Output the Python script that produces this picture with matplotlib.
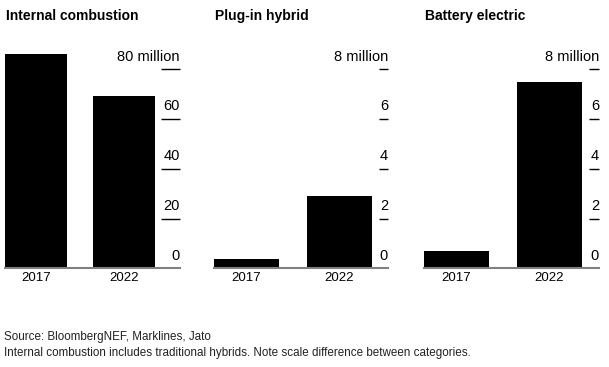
import matplotlib.pyplot as plt
import matplotlib.transforms as mtransforms

plt.rcParams['font.family'] = ['Liberation Sans', 'DejaVu Sans']

years = ['2017', '2022']
titles = ['Internal combustion', 'Plug-in hybrid', 'Battery electric']
ice_sales = [86.2, 69.3]
phev_sales = [0.37, 2.9]
bev_sales = [0.70, 7.5]
ice_ticks = [0, 20, 40, 60, 80]
ev_ticks = [0, 2, 4, 6, 8]

W, H = 609, 367
fig = plt.figure(figsize=(W / 100, H / 100), dpi=100, facecolor='white')

# layout in pixels: left edge of first bar, right end of axis, bar spacing
panels = [
    (ice_sales, ice_ticks, 5, 180, 88, 19),
    (phev_sales, ev_ticks, 214, 388, 93, 9),
    (bev_sales, ev_ticks, 424, 599, 93, 10),
]
base_px, top_tick_px = 268.3, 69.3

for (vals, ticks, left, right, unit, dash), title in zip(panels, titles):
    top_val = ticks[-1]
    px_per_val = (base_px - top_tick_px) / top_val
    ymax = top_val * 1.125
    top_px = base_px - ymax * px_per_val
    ax = fig.add_axes([left / W, 1 - base_px / H, (right - left) / W, (base_px - top_px) / H])
    width = 0.70
    ax.bar(range(len(years)), vals, width=width, color='black', zorder=2)
    ax.set_xlim(-width / 2, -width / 2 + (right - left) / unit)
    ax.set_ylim(0, ymax)

    for s in ['top', 'left', 'right']:
        ax.spines[s].set_visible(False)
    ax.spines['bottom'].set_color('#808080')
    ax.spines['bottom'].set_linewidth(1.5)
    ax.spines['bottom'].set_zorder(3)

    ax.set_xticks(range(len(years)))
    ax.set_xticklabels(years, fontsize=9.5)
    ax.tick_params(axis='x', length=0, pad=3)

    ax.yaxis.tick_right()
    ax.set_yticks(ticks[1:])
    ax.set_yticklabels([])
    ax.tick_params(axis='y', direction='in', length=dash * 0.72, width=1.0, color='black', right=True, left=False)

    trans = mtransforms.offset_copy(ax.get_yaxis_transform(), fig=fig, x=0, y=4, units='points')
    for t in ticks:
        lab = f'{t} million' if t == top_val else f'{t}'
        ax.text(1.0, t, lab, transform=trans, ha='right', va='bottom', fontsize=10.5)

    fig.text((left + 1) / W, 1 - 16 / H, title, fontsize=10, fontweight='bold', va='center', ha='left')

fig.text(4 / W, 1 - 337 / H, 'Source: BloombergNEF, Marklines, Jato', fontsize=8.4, va='center', color='#222222')
fig.text(4 / W, 1 - 353 / H, 'Internal combustion includes traditional hybrids. Note scale difference between categories.',
         fontsize=8.4, va='center', color='#222222')

fig.savefig('out.png', dpi=100, facecolor='white')
